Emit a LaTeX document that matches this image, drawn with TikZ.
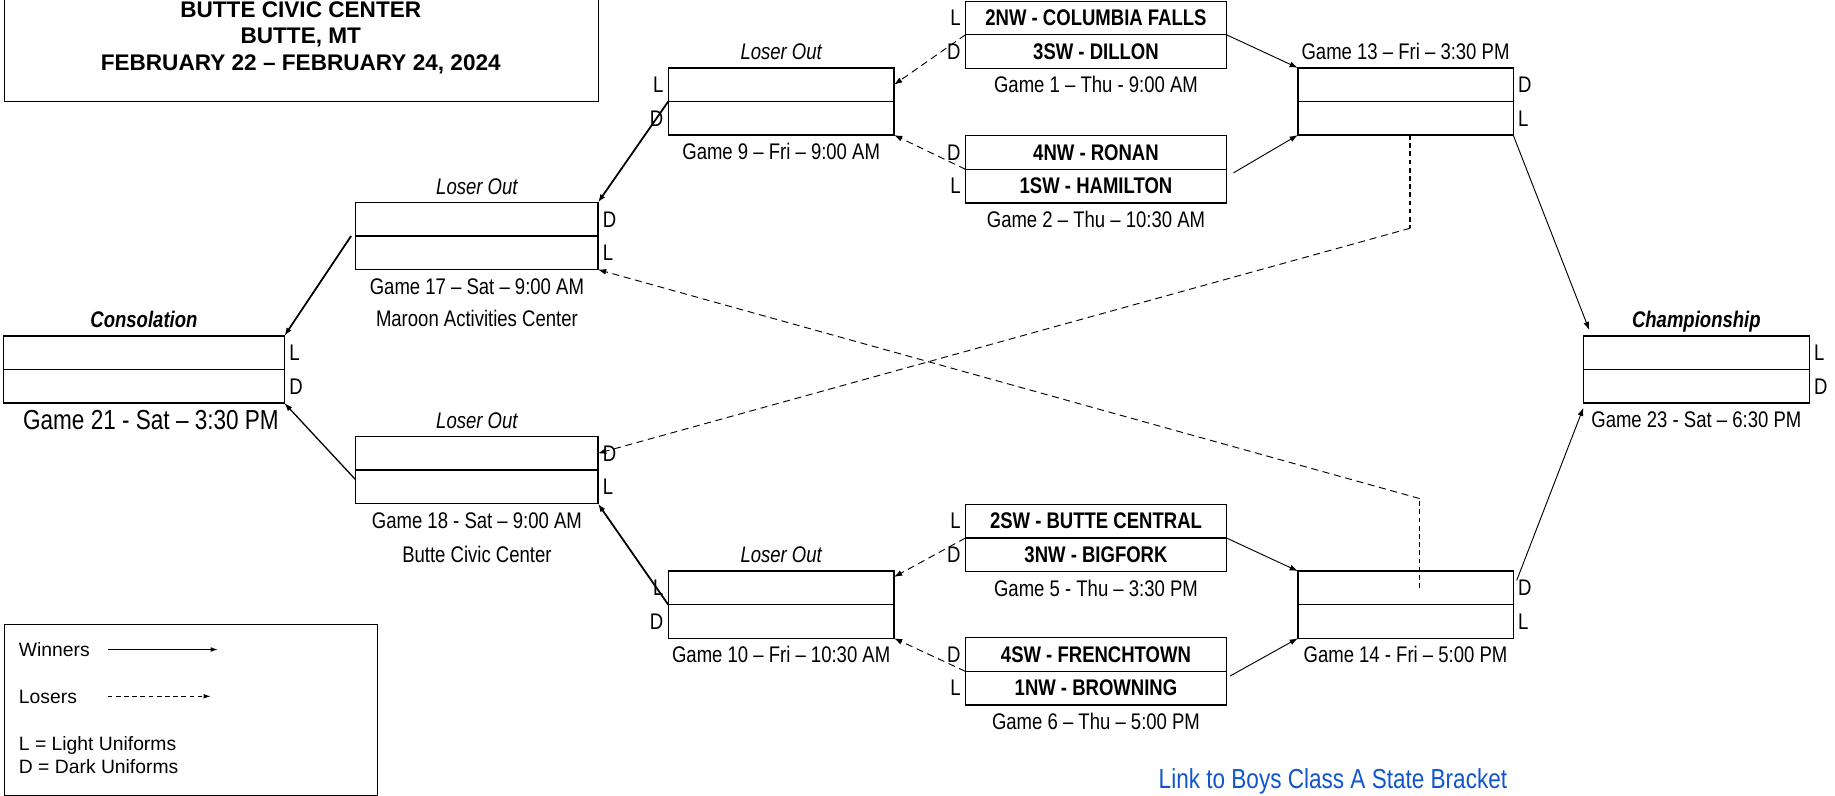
\documentclass[tikz,border=0pt]{standalone}
\usepackage{fontspec}
\setmainfont{Liberation Sans}
\newfontfamily\narrowfont{Liberation Sans}[FakeStretch=0.82]
\usetikzlibrary{positioning,arrows.meta}
\definecolor{linkblue}{RGB}{17,85,204}

\tikzset{
  slot/.style={draw, line width=1.1pt, minimum height=28.7pt, inner sep=0pt, outer sep=0pt,
    font=\narrowfont\bfseries\fontsize{19.3}{22}\selectfont},
  first/.style={slot, minimum width=223pt},
  second/.style={slot, minimum width=193pt},
  third/.style={slot, minimum width=184pt},
  fourth/.style={slot, minimum width=207pt},
  side/.style={inner sep=0pt, font=\narrowfont\fontsize{19.3}{22}\selectfont},
  gamelbl/.style={inner sep=0pt, anchor=base, font=\narrowfont\fontsize{19.3}{22}\selectfont},
  outlbl/.style={gamelbl, font=\narrowfont\itshape\fontsize{19.3}{22}\selectfont},
  finlbl/.style={gamelbl, font=\narrowfont\bfseries\itshape\fontsize{19.3}{22}\selectfont},
  biglbl/.style={gamelbl, font=\narrowfont\fontsize{23.5}{27}\selectfont},
  legtxt/.style={inner sep=0pt, anchor=base west, font=\fontsize{16.5}{19}\selectfont},
  win/.style={line width=0.8pt, -{Latex[length=7pt,width=5pt]}},
  winthick/.style={win, line width=1.5pt},
  lose/.style={line width=0.8pt, dash pattern=on 6pt off 4pt, -{Latex[length=7pt,width=5pt]}},
  dropline/.style={line width=1.4pt, dash pattern=on 4pt off 3pt},
}

\begin{document}
\begin{tikzpicture}[x=1pt,y=-1pt]
  \useasboundingbox (0,0) rectangle (1568,680);

  % heading
  \node[draw, line width=0.8pt, minimum width=508pt, minimum height=92pt, inner sep=0pt, anchor=south west] (titlebox) at (3,87) {};
  \node[anchor=base, inner sep=0pt, font=\bfseries\fontsize{19.3}{22}\selectfont] (ttl1) at (257,15) {BUTTE CIVIC CENTER};
  \node[anchor=base, inner sep=0pt, font=\bfseries\fontsize{19.3}{22}\selectfont] (ttl2) at (257,37) {BUTTE, MT};
  \node[anchor=base, inner sep=0pt, font=\bfseries\fontsize{19.3}{22}\selectfont] (ttl3) at (257,60) {FEBRUARY 22 – FEBRUARY 24, 2024};

  % first round
  \node[first, anchor=north west] (g1a) at (825,1) {2NW - COLUMBIA FALLS};
  \node[first, below=0pt of g1a] (g1b) {3SW - DILLON};
  \node[side, left=4pt of g1a] (g1aS) {L};
  \node[side, left=4pt of g1b] (g1bS) {D};
  \node[gamelbl] (g1t) at ([yshift=-21pt]g1b.south) {Game 1 – Thu - 9:00 AM};

  \node[first, anchor=north west] (g2a) at (825,116) {4NW - RONAN};
  \node[first, below=0pt of g2a] (g2b) {1SW - HAMILTON};
  \node[side, left=4pt of g2a] (g2aS) {D};
  \node[side, left=4pt of g2b] (g2bS) {L};
  \node[gamelbl] (g2t) at ([yshift=-21pt]g2b.south) {Game 2 – Thu – 10:30 AM};

  \node[first, anchor=north west] (g5a) at (825,431) {2SW - BUTTE CENTRAL};
  \node[first, below=0pt of g5a] (g5b) {3NW - BIGFORK};
  \node[side, left=4pt of g5a] (g5aS) {L};
  \node[side, left=4pt of g5b] (g5bS) {D};
  \node[gamelbl] (g5t) at ([yshift=-21pt]g5b.south) {Game 5 - Thu – 3:30 PM};

  \node[first, anchor=north west] (g6a) at (825,545) {4SW - FRENCHTOWN};
  \node[first, below=0pt of g6a] (g6b) {1NW - BROWNING};
  \node[side, left=4pt of g6a] (g6aS) {D};
  \node[side, left=4pt of g6b] (g6bS) {L};
  \node[gamelbl] (g6t) at ([yshift=-21pt]g6b.south) {Game 6 – Thu – 5:00 PM};

  % loser out games
  \node[second, anchor=north west] (g9a) at (571,58) {};
  \node[second, below=0pt of g9a] (g9b) {};
  \node[side, left=4pt of g9a] (g9aS) {L};
  \node[side, left=4pt of g9b] (g9bS) {D};
  \node[outlbl] (g9o) at ([yshift=7pt]g9a.north) {Loser Out};
  \node[gamelbl] (g9t) at ([yshift=-21pt]g9b.south) {Game 9 – Fri – 9:00 AM};

  \node[second, anchor=north west] (g10a) at (571,488) {};
  \node[second, below=0pt of g10a] (g10b) {};
  \node[side, left=4pt of g10a] (g10aS) {L};
  \node[side, left=4pt of g10b] (g10bS) {D};
  \node[outlbl] (g10o) at ([yshift=7pt]g10a.north) {Loser Out};
  \node[gamelbl] (g10t) at ([yshift=-21pt]g10b.south) {Game 10 – Fri – 10:30 AM};

  % semifinals
  \node[third, anchor=north west] (g13a) at (1109,58) {};
  \node[third, below=0pt of g13a] (g13b) {};
  \node[side, right=4pt of g13a] (g13aS) {D};
  \node[side, right=4pt of g13b] (g13bS) {L};
  \node[gamelbl] (g13t) at ([yshift=7pt]g13a.north) {Game 13 – Fri – 3:30 PM};

  \node[third, anchor=north west] (g14a) at (1109,488) {};
  \node[third, below=0pt of g14a] (g14b) {};
  \node[side, right=4pt of g14a] (g14aS) {D};
  \node[side, right=4pt of g14b] (g14bS) {L};
  \node[gamelbl] (g14t) at ([yshift=-21pt]g14b.south) {Game 14 - Fri – 5:00 PM};

  \node[fourth, anchor=north west] (g17a) at (304,173) {};
  \node[fourth, below=0pt of g17a] (g17b) {};
  \node[side, right=4pt of g17a] (g17aS) {D};
  \node[side, right=4pt of g17b] (g17bS) {L};
  \node[outlbl] (g17o) at ([yshift=7pt]g17a.north) {Loser Out};
  \node[gamelbl] (g17t) at ([yshift=-21pt]g17b.south) {Game 17 – Sat – 9:00 AM};
  \node[gamelbl] (g17p) at ([yshift=-49pt]g17b.south) {Maroon Activities Center};

  \node[fourth, anchor=north west] (g18a) at (304,373) {};
  \node[fourth, below=0pt of g18a] (g18b) {};
  \node[side, right=4pt of g18a] (g18aS) {D};
  \node[side, right=4pt of g18b] (g18bS) {L};
  \node[outlbl] (g18o) at ([yshift=7pt]g18a.north) {Loser Out};
  \node[gamelbl] (g18t) at ([yshift=-21pt]g18b.south) {Game 18 - Sat – 9:00 AM};
  \node[gamelbl] (g18p) at ([yshift=-50pt]g18b.south) {Butte Civic Center};

  % finals
  \node[slot, minimum width=240pt, anchor=north west] (g21a) at (3,287) {};
  \node[slot, minimum width=240pt, below=0pt of g21a] (g21b) {};
  \node[side, right=4pt of g21a] (g21aS) {L};
  \node[side, right=4pt of g21b] (g21bS) {D};
  \node[finlbl] (g21o) at ([yshift=7pt]g21a.north) {Consolation};
  \node[biglbl] (g21t) at ([xshift=6pt,yshift=-23pt]g21b.south) {Game 21 - Sat – 3:30 PM};

  \node[second, anchor=north west] (g23a) at (1353,287) {};
  \node[second, below=0pt of g23a] (g23b) {};
  \node[side, right=4pt of g23a] (g23aS) {L};
  \node[side, right=4pt of g23b] (g23bS) {D};
  \node[finlbl] (g23o) at ([yshift=7pt]g23a.north) {Championship};
  \node[gamelbl] (g23t) at ([yshift=-21pt]g23b.south) {Game 23 - Sat – 6:30 PM};

  % winners
  \draw[win] (g1a.south east) -- (g13a.north west);
  \draw[win] ([xshift=6pt,yshift=-3pt]g2a.south east) -- (g13b.south west);
  \draw[win] (g5a.south east) -- (g14a.north west);
  \draw[win] ([xshift=3pt,yshift=-4pt]g6a.south east) -- (g14b.south west);
  \draw[winthick] (g9a.south west) -- (g17a.north east);
  \draw[winthick] (g10a.south west) -- (g18b.south east);
  \draw[winthick] ([xshift=-4pt]g17a.south west) -- (g21a.north east);
  \draw[win, line width=1.1pt] ([yshift=6pt]g18b.west) -- (g21b.south east);
  \draw[win] (g13b.south east) -- ([xshift=5pt,yshift=5pt]g23a.north west);
  \draw[win] ([xshift=3pt,yshift=-8pt]g14a.north east) -- ([yshift=-4pt]g23b.south west);

  % losers
  \draw[lose] (g1a.south west) -- (g9a.east);
  \draw[lose] (g2a.south west) -- (g9b.south east);
  \draw[lose] (g5a.south west) -- ([yshift=-5pt]g10a.north east);
  \draw[lose] (g6a.south west) -- (g10b.south east);
  \coordinate (k13) at (1205,195);
  \draw[dropline] ([xshift=4pt]g13b.south) -- (k13);
  \draw[lose] (k13) -- (g18a.east);
  \coordinate (k14) at (1213,426);
  \draw[dropline] ([xshift=12pt]g14a.center) -- (k14);
  \draw[lose] (k14) -- (g17b.south east);

  % legend
  \node[draw, line width=0.8pt, minimum width=319pt, minimum height=146pt, inner sep=0pt, anchor=north west] (legend) at (3,533) {};
  \node[legtxt] (legw) at (16,561) {Winners};
  \coordinate (legw0) at (92,555);
  \coordinate (legw1) at (186,555);
  \draw[line width=0.8pt, -{Latex[length=6pt,width=4pt]}] (legw0) -- (legw1);
  \node[legtxt] (legl) at (16,601) {Losers};
  \coordinate (legl0) at (92,595);
  \coordinate (legl1) at (180,595);
  \draw[line width=0.8pt, dash pattern=on 4pt off 3pt, -{Latex[length=6pt,width=4pt]}] (legl0) -- (legl1);
  \node[legtxt] (legL) at (16,641) {L = Light Uniforms};
  \node[legtxt] (legD) at (16,661) {D = Dark Uniforms};

  \node[biglbl, text=linkblue] (link) at (1139,674) {Link to Boys Class A State Bracket};
\end{tikzpicture}
\end{document}
